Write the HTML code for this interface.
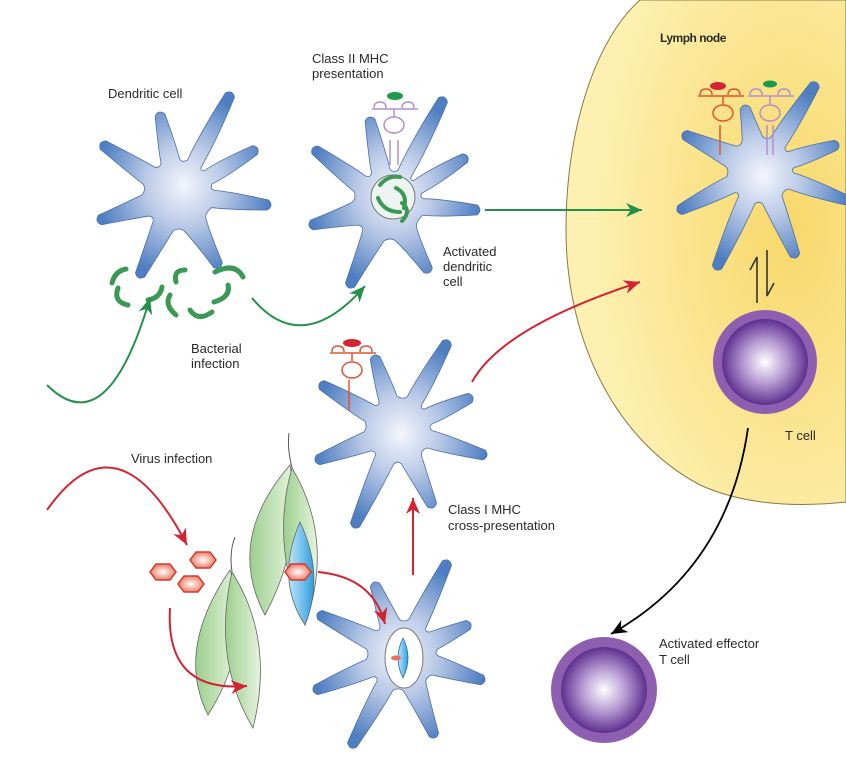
<!DOCTYPE html>
<html><head><meta charset="utf-8"><style>
html,body{margin:0;padding:0;background:#fff;width:846px;height:762px;overflow:hidden}
svg text{font-family:"Liberation Sans",sans-serif;font-size:13px;fill:#2a2a2a}
</style></head><body>
<svg id="s" width="846" height="762" viewBox="0 0 846 762" xmlns="http://www.w3.org/2000/svg">
<defs>
<radialGradient id="star" cx="50%" cy="50%" r="50%"><stop offset="0" stop-color="#f4f6fc"/><stop offset="0.45" stop-color="#b9c9e6"/><stop offset="1" stop-color="#4f7fc2"/></radialGradient>
<radialGradient id="lymph" cx="80%" cy="45%" r="70%"><stop offset="0" stop-color="#f7d86a"/><stop offset="0.7" stop-color="#fbe89a"/><stop offset="1" stop-color="#fdf0b0"/></radialGradient>
<radialGradient id="tin" cx="50%" cy="50%" r="50%"><stop offset="0" stop-color="#ffffff"/><stop offset="0.5" stop-color="#b79bd2"/><stop offset="1" stop-color="#5e2f8e"/></radialGradient>
<linearGradient id="leaf" x1="0" x2="1"><stop offset="0" stop-color="#9ccf8e"/><stop offset="1" stop-color="#e6f4df"/></linearGradient>
<linearGradient id="bleaf" x1="0" x2="1"><stop offset="0" stop-color="#bfe6fb"/><stop offset="1" stop-color="#2e9ee0"/></linearGradient>
<radialGradient id="hex" cx="50%" cy="50%" r="50%"><stop offset="0" stop-color="#fff"/><stop offset="1" stop-color="#ec8068"/></radialGradient>
</defs>
<path d="M640,0 C595,40 566,130 566,230 C566,340 615,440 700,485 C740,503 790,508 846,502 L846,0 Z" fill="url(#lymph)" stroke="#8a7a40" stroke-width="1"/>
<g id="stars"></g>
<g id="over"></g>
<text x="108" y="98">Dendritic cell</text>
<text x="312" y="63">Class II MHC</text>
<text x="312" y="78">presentation</text>
<text x="443" y="256">Activated</text>
<text x="443" y="271">dendritic</text>
<text x="443" y="286">cell</text>
<text x="191" y="353">Bacterial</text>
<text x="191" y="368">infection</text>
<text x="131" y="463">Virus infection</text>
<text x="448" y="514">Class I MHC</text>
<text x="448" y="530">cross-presentation</text>
<text x="660" y="42" style="font-weight:bold;font-size:12px;letter-spacing:-0.5px">Lymph node</text>
<text x="785" y="440">T cell</text>
<text x="659" y="648">Activated effector</text>
<text x="659" y="664">T cell</text>
</svg>
<script>
var NS="http://www.w3.org/2000/svg";
function el(p,t,a){var e=document.createElementNS(NS,t);for(var k in a)e.setAttribute(k,a[k]);p.appendChild(e);return e;}
function star(cx,cy,tips,rin){
  var arr=tips.map(function(t){var dx=t[0]-cx,dy=t[1]-cy;return {a:Math.atan2(dy,dx),d:Math.hypot(dx,dy),x:t[0],y:t[1]};});
  arr.sort(function(a,b){return a.a-b.a;});
  var n=arr.length,d="";
  function gap(i,j){var g=arr[j%n].a-arr[i].a;if(g<0)g+=Math.PI*2;return g;}
  for(var i=0;i<n;i++){arr[i].w=Math.min(0.36,gap(i,i+1)/2.6,gap((i+n-1)%n,i)/2.6);}
  for(var i=0;i<n;i++){
    var t=arr[i],nx=arr[(i+1)%n];
    var w=t.w;
    var b1=[cx+rin*Math.cos(t.a-w),cy+rin*Math.sin(t.a-w)];
    var b2=[cx+rin*Math.cos(t.a+w),cy+rin*Math.sin(t.a+w)];
    var px=-Math.sin(t.a),py=Math.cos(t.a);
    var tl=[t.x-px*5,t.y-py*5],tr=[t.x+px*5,t.y+py*5];
    var m1=[cx+t.d*0.6*Math.cos(t.a)-px*9,cy+t.d*0.6*Math.sin(t.a)-py*9];
    var m2=[cx+t.d*0.6*Math.cos(t.a)+px*9,cy+t.d*0.6*Math.sin(t.a)+py*9];
    if(i==0)d+="M"+b1;
    d+=" Q"+m1+" "+tl+" Q"+(t.x+Math.cos(t.a)*6)+","+(t.y+Math.sin(t.a)*6)+" "+tr+" Q"+m2+" "+b2;
    var na=nx.a; if(na<t.a)na+=Math.PI*2;
    var ma=(t.a+na)/2;
    var nb1=[cx+rin*Math.cos(nx.a-nx.w),cy+rin*Math.sin(nx.a-nx.w)];
    d+=" Q"+(cx+rin*0.9*Math.cos(ma))+","+(cy+rin*0.9*Math.sin(ma))+" "+nb1;
  }
  el(document.getElementById("stars"),"path",{d:d+"Z",fill:"url(#star)",stroke:"#4a6fa8","stroke-width":"0.8"});
}
star(178,195,[[230,95],[160,115],[103,145],[100,220],[140,275],[218,265],[268,205],[255,150]],36);
star(388,205,[[443,100],[370,120],[315,150],[312,225],[350,285],[428,270],[477,210],[465,158]],36);
star(398,430,[[447,343],[375,358],[322,385],[318,460],[355,525],[432,505],[484,455],[470,398]],34);
star(402,655,[[447,563],[375,585],[320,615],[316,690],[352,745],[434,735],[482,680],[468,625]],36);
star(760,170,[[815,85],[745,108],[685,135],[680,210],[717,267],[795,255],[846,200],[836,145]],34);
var o=document.getElementById("over");
o.innerHTML=
'<circle cx="393" cy="197" r="22" fill="#eef4f0" stroke="#777" stroke-width="1"/>'+
'<path d="M380,185 q8,-10 20,-8 M378,198 q6,14 22,14 M396,188 q12,6 8,20 M402,203 q10,8 0,18" stroke="#3a9a55" stroke-width="4" fill="none" stroke-linecap="round"/>'+
'<g stroke="#b48ed2" stroke-width="1.5" fill="none"><path d="M390,165 v-25 M398,165 v-25"/><ellipse cx="394" cy="125" rx="10" ry="8"/><path d="M374,108 q0,-6 6,-6 q6,0 6,6 M402,108 q0,-6 6,-6 q6,0 6,6 M372,109 h46 M394,109 v8"/></g>'+
'<ellipse cx="395" cy="96" rx="8" ry="4" fill="#1e9a4a"/>'+
'<g stroke="#e0552f" stroke-width="1.5" fill="none"><path d="M349,410 v-30"/><ellipse cx="352" cy="370" rx="10" ry="8"/><path d="M332,352 q0,-6 6,-6 q6,0 6,6 M360,352 q0,-6 6,-6 q6,0 6,6 M330,353 h46 M352,353 v8"/></g>'+
'<ellipse cx="352" cy="343" rx="9" ry="4" fill="#d42431"/>'+
'<g stroke="#e0552f" stroke-width="1.5" fill="none"><path d="M720,155 v-30"/><ellipse cx="723" cy="113" rx="10" ry="8"/><path d="M700,95 q0,-6 6,-6 q6,0 6,6 M728,95 q0,-6 6,-6 q6,0 6,6 M698,96 h46 M723,96 v8"/></g>'+
'<ellipse cx="718" cy="86" rx="8" ry="4" fill="#d42431"/>'+
'<g stroke="#b48ed2" stroke-width="1.5" fill="none"><path d="M767,155 v-30 M773,155 v-30"/><ellipse cx="770" cy="113" rx="10" ry="8"/><path d="M750,95 q0,-6 6,-6 q6,0 6,6 M778,95 q0,-6 6,-6 q6,0 6,6 M748,96 h46 M770,96 v8"/></g>'+
'<ellipse cx="770" cy="84" rx="7" ry="3.5" fill="#1e9a4a"/>'+
'<ellipse cx="404" cy="658" rx="19" ry="30" fill="#fff" stroke="#777"/>'+
'<path d="M403,638 q10,20 0,40 q-10,-20 0,-40z" fill="url(#bleaf)" stroke="#2a6fa8" stroke-width="0.8"/>'+
'<ellipse cx="396" cy="658" rx="5" ry="2.5" fill="#e8705e"/>'+
'<g stroke="#3a9a55" stroke-width="5" fill="none" stroke-linecap="round"><path d="M112,283 q3,-12 14,-14"/><path d="M118,288 q-5,14 10,17"/><path d="M148,300 q12,-2 14,-13"/><path d="M185,270 q-12,0 -9,12"/><path d="M170,295 q-6,10 6,20"/><path d="M190,310 q8,12 22,2"/><path d="M215,272 q20,-10 28,5"/><path d="M228,285 q3,12 -14,17"/></g>'+
'<circle cx="765" cy="362" r="52" fill="#8e5fb0"/><circle cx="765" cy="362" r="43" fill="url(#tin)"/>'+
'<circle cx="604" cy="690" r="53" fill="#8e5fb0"/><circle cx="604" cy="690" r="43" fill="url(#tin)"/>'+
'<g stroke="#666" stroke-width="0.8">'+
'<path d="M290,465 Q225,540 265,615 Q305,540 290,465z" fill="url(#leaf)"/>'+
'<path d="M292,468 Q270,545 305,625 Q335,540 292,468z" fill="url(#leaf)"/>'+
'<path d="M300,522 Q275,580 305,625 Q325,575 300,522z" fill="url(#bleaf)"/>'+
'<path d="M230,570 Q175,650 208,715 Q255,640 230,570z" fill="url(#leaf)"/>'+
'<path d="M232,572 Q212,660 253,728 Q275,640 232,572z" fill="url(#leaf)"/>'+
'</g>'+
'<path d="M292,468 q-5,-20 -3,-35 M232,572 q-3,-20 3,-35" stroke="#555" fill="none"/>'+
'<g fill="url(#hex)" stroke="#d43a30" stroke-width="1.5"><path d="M150,572 l6,-8 h14 l6,8 l-6,8 h-14z"/><path d="M190,560 l6,-8 h14 l6,8 l-6,8 h-14z"/><path d="M178,584 l6,-8 h14 l6,8 l-6,8 h-14z"/><path d="M285,572 l6,-8 h14 l6,8 l-6,8 h-14z"/></g>';
function arrow(d,col,sw){
  var g=document.getElementById("over");
  var p=el(g,"path",{d:d,fill:"none",stroke:col,"stroke-width":sw||2});
  var L=p.getTotalLength(),e=p.getPointAtLength(L),b=p.getPointAtLength(L-6);
  var a=Math.atan2(e.y-b.y,e.x-b.x),s=16,h=7;
  var bx=e.x-s*Math.cos(a),by=e.y-s*Math.sin(a);
  var ix=e.x-s*0.7*Math.cos(a),iy=e.y-s*0.7*Math.sin(a);
  var pts=[[e.x,e.y],[bx-h*Math.sin(a),by+h*Math.cos(a)],[ix,iy],[bx+h*Math.sin(a),by-h*Math.cos(a)]];
  el(g,"path",{d:"M"+pts.join(" L")+"Z",fill:col});
}
arrow("M252,298 q50,60 113,-12","#23914a");
arrow("M47,385 q60,60 103,-87","#23914a");
arrow("M485,210 L642,210","#23914a");
arrow("M472,382 q30,-55 168,-100","#d42431");
arrow("M47,510 q70,-100 140,35","#d42431");
arrow("M170,608 q-5,85 77,78","#d42431");
arrow("M318,572 q55,5 67,52","#d42431");
arrow("M413,575 L413,498","#d42431");
arrow("M748,428 q-20,140 -137,206","#000",1.8);
o.insertAdjacentHTML("beforeend",'<g stroke="#333" stroke-width="1.6" fill="none"><path d="M757,303 V257 l-7,13"/><path d="M767,250 V296 l7,-13"/></g>');
</script>
</body></html>
